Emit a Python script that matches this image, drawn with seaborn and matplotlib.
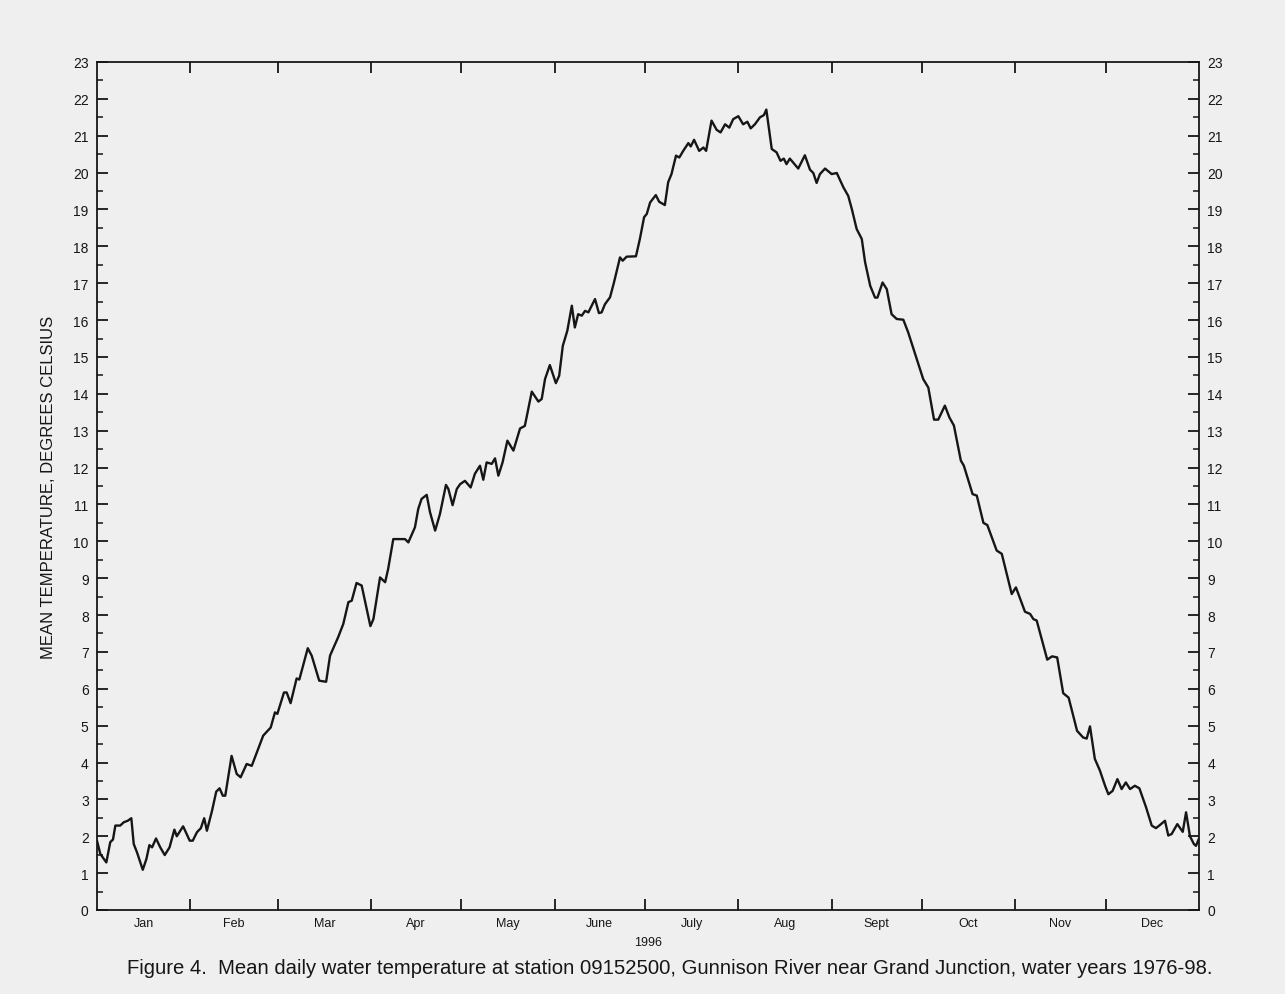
import matplotlib
matplotlib.use("Agg")
import matplotlib.pyplot as plt
import numpy as np
import pandas as pd
import seaborn as sns
from matplotlib.ticker import MultipleLocator, FixedLocator, NullFormatter, FixedFormatter

# Day of the 1996 calendar year (0 = 1 Jan) and mean daily water temperature, deg C
day = [
    0.0, 1.1, 3.1, 4.4, 5.3, 6.1, 7.7, 8.9, 10.2, 11.4, 12.2, 13.3, 15.2, 16.4,
    17.4, 18.3, 19.6, 21.0, 22.5, 24.1, 25.7, 26.5, 28.6, 30.8, 31.8, 33.2, 34.5,
    35.6, 36.5, 38.2, 39.6, 40.7, 41.8, 42.6, 44.7, 46.4, 47.7, 49.7, 51.4, 55.2,
    57.7, 59.1, 59.9, 62.1, 63.0, 64.3, 66.3, 67.2, 70.0, 71.3, 73.8, 76.1, 77.4,
    80.1, 81.8, 83.5, 84.6, 86.2, 87.9, 90.8, 91.8, 94.0, 95.7, 96.7, 98.4, 102.3,
    103.4, 105.6, 106.7, 107.8, 109.5, 110.6, 112.3, 113.9, 115.9, 116.7, 118.1,
    119.5, 120.6, 122.2, 124.1, 125.5, 127.2, 128.3, 129.4, 131.1, 132.2, 133.3,
    134.7, 136.3, 138.3, 140.5, 142.1, 144.4, 146.6, 147.7, 148.8, 150.4, 152.4,
    153.5, 154.7, 156.2, 157.7, 158.7, 159.8, 161.0, 162.1, 163.2, 165.4, 166.7,
    167.6, 168.7, 170.4, 171.7, 173.7, 174.6, 175.9, 179.0, 180.3, 181.7, 182.6,
    183.7, 185.6, 186.7, 188.6, 189.7, 190.8, 192.3, 193.4, 194.7, 196.4, 197.2,
    198.3, 200.0, 201.4, 202.3, 204.1, 205.8, 207.1, 208.6, 210.0, 211.3, 213.0,
    214.6, 216.0, 217.1, 218.5, 220.2, 221.5, 222.3, 224.1, 225.7, 227.0, 228.1,
    229.0, 230.1, 232.9, 235.1, 236.8, 237.9, 239.0, 240.1, 241.8, 244.0, 245.7,
    247.9, 249.5, 250.7, 252.3, 254.0, 255.1, 256.8, 258.4, 259.2, 260.9, 262.3,
    263.9, 265.6, 267.8, 269.4, 274.4, 276.1, 278.0, 279.4, 281.6, 283.1, 284.6,
    286.9, 287.9, 290.8, 292.2, 294.4, 295.7, 298.8, 300.5, 303.8, 305.2, 308.2,
    309.9, 311.0, 312.1, 315.6, 317.2, 318.9, 320.9, 322.7, 325.5, 327.5, 328.7,
    329.8, 331.4, 333.1, 334.8, 335.9, 337.3, 338.9, 340.3, 341.7, 343.1, 344.7,
    346.2, 348.4, 350.3, 351.7, 352.8, 354.7, 355.8, 356.9, 358.8, 360.6, 361.7,
    363.0, 364.3, 365.0, 366.0,
]
temperature = [
    1.88, 1.52, 1.29, 1.84, 1.91, 2.29, 2.29, 2.38, 2.42, 2.49, 1.79, 1.56, 1.09,
    1.38, 1.76, 1.70, 1.94, 1.70, 1.49, 1.70, 2.18, 2.00, 2.27, 1.88, 1.88, 2.11,
    2.22, 2.49, 2.15, 2.69, 3.21, 3.30, 3.10, 3.10, 4.18, 3.69, 3.60, 3.96, 3.91,
    4.73, 4.95, 5.36, 5.32, 5.90, 5.90, 5.61, 6.28, 6.25, 7.10, 6.90, 6.22, 6.19,
    6.90, 7.40, 7.76, 8.35, 8.39, 8.87, 8.80, 7.70, 7.89, 9.02, 8.89, 9.25, 10.06,
    10.06, 9.97, 10.38, 10.88, 11.15, 11.26, 10.79, 10.29, 10.74, 11.53, 11.42,
    10.98, 11.42, 11.55, 11.64, 11.46, 11.83, 12.05, 11.67, 12.14, 12.10, 12.25,
    11.78, 12.14, 12.73, 12.46, 13.06, 13.13, 14.06, 13.79, 13.86, 14.40, 14.78,
    14.29, 14.49, 15.30, 15.71, 16.39, 15.80, 16.16, 16.12, 16.25, 16.21, 16.57,
    16.19, 16.21, 16.43, 16.62, 17.02, 17.70, 17.61, 17.72, 17.73, 18.20, 18.79,
    18.88, 19.19, 19.39, 19.21, 19.12, 19.74, 19.96, 20.46, 20.41, 20.59, 20.80,
    20.71, 20.89, 20.59, 20.68, 20.59, 21.41, 21.16, 21.09, 21.31, 21.22, 21.45,
    21.53, 21.31, 21.38, 21.20, 21.31, 21.50, 21.56, 21.71, 20.64, 20.55, 20.32,
    20.38, 20.23, 20.38, 20.11, 20.47, 20.08, 19.99, 19.72, 19.96, 20.11, 19.96,
    19.99, 19.60, 19.37, 19.01, 18.47, 18.20, 17.57, 16.93, 16.61, 16.61, 17.02,
    16.84, 16.16, 16.03, 16.01, 15.67, 14.40, 14.17, 13.30, 13.30, 13.68, 13.36,
    13.14, 12.19, 12.05, 11.28, 11.24, 10.50, 10.44, 9.75, 9.66, 8.57, 8.75, 8.09,
    8.03, 7.89, 7.85, 6.79, 6.88, 6.85, 5.88, 5.76, 4.86, 4.68, 4.65, 4.98, 4.10,
    3.78, 3.37, 3.14, 3.23, 3.55, 3.28, 3.46, 3.28, 3.37, 3.30, 2.79, 2.29, 2.22,
    2.29, 2.42, 2.02, 2.06, 2.33, 2.12, 2.65, 2.00, 1.79, 1.74, 1.94,
]

months = ["Jan", "Feb", "Mar", "Apr", "May", "June", "July", "Aug", "Sept",
          "Oct", "Nov", "Dec"]
month_days = [31, 29, 31, 30, 31, 30, 31, 31, 30, 31, 30, 31]

year_label = "1996"
ylabel = "MEAN TEMPERATURE, DEGREES CELSIUS"
caption = ("Figure 4.  Mean daily water temperature at station 09152500, "
           "Gunnison River near Grand Junction, water years 1976-98.")

df = pd.DataFrame({"day": day, "temperature": temperature})

bg = "#efefef"
ink = "#161616"

sns.set_theme(style="ticks")
plt.rcParams["font.family"] = ["Liberation Sans", "DejaVu Sans"]
plt.rcParams["axes.edgecolor"] = ink
plt.rcParams["xtick.color"] = ink
plt.rcParams["ytick.color"] = ink
plt.rcParams["text.color"] = ink
plt.rcParams["axes.labelcolor"] = ink

fig = plt.figure(figsize=(12.85, 9.95), dpi=100, facecolor=bg)
ax = fig.add_axes([97 / 1285, 1 - 911 / 995, (1199 - 97) / 1285, (911 - 63) / 995])
ax.set_facecolor(bg)

sns.lineplot(data=df, x="day", y="temperature", ax=ax, color=ink,
             linewidth=1.7, sort=False, estimator=None)

edges = np.cumsum([0] + month_days)
ax.set_xlim(0, edges[-1])
ax.set_ylim(0, 23)

# month boundaries as ticks, month names centred between them
ax.xaxis.set_major_locator(FixedLocator(edges[1:-1]))
ax.xaxis.set_major_formatter(NullFormatter())
centres = (edges[:-1] + edges[1:]) / 2
ax.xaxis.set_minor_locator(FixedLocator(centres))
ax.xaxis.set_minor_formatter(FixedFormatter(months))

ax.yaxis.set_major_locator(MultipleLocator(1))
ax.yaxis.set_minor_locator(MultipleLocator(0.5))

for s in ax.spines.values():
    s.set_linewidth(1.3)
    s.set_visible(True)

ax.tick_params(axis="y", which="major", direction="in", length=8, width=1.3,
               left=True, right=True, labelleft=True, labelright=True,
               labelsize=10, pad=6)
ax.tick_params(axis="y", which="minor", direction="in", length=4.5, width=1.1,
               left=True, right=True)
ax.tick_params(axis="x", which="major", direction="in", length=8, width=1.3,
               bottom=True, top=True)
ax.tick_params(axis="x", which="minor", length=0, labelsize=9, pad=5,
               bottom=True, top=False)

ax.set_xlabel("")
ax.set_ylabel(ylabel, fontsize=12, labelpad=12)
ax.text(0.5, -0.031, year_label, transform=ax.transAxes, ha="center",
        va="top", fontsize=9)

fig.text(127 / 1285, 1 - 969 / 995, caption, ha="left", va="center",
         fontsize=14.6)

fig.savefig("out.png", dpi=100, facecolor=bg)
